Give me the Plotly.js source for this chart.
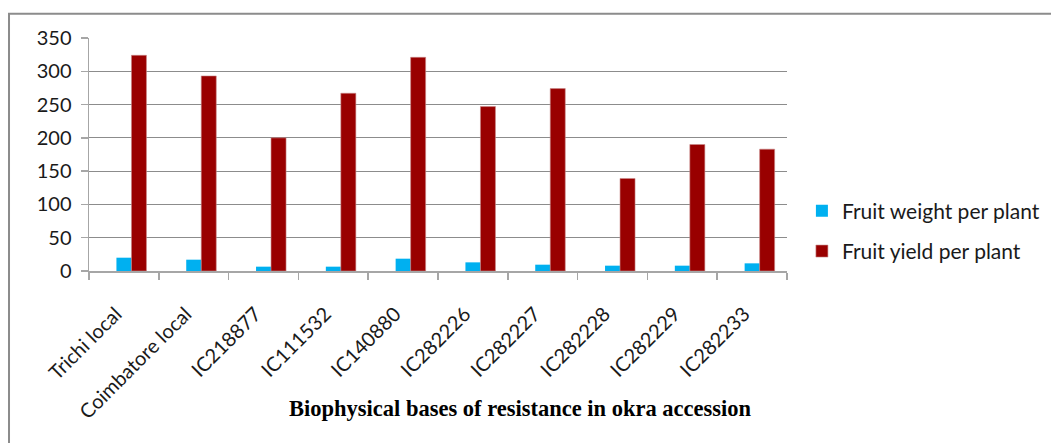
<!DOCTYPE html>
<html>
<head>
<meta charset="utf-8">
<script src="https://cdn.plot.ly/plotly-3.0.1.min.js"></script>
<style>
  html, body { margin: 0; padding: 0; background: #ffffff; }
  #chart { width: 1051px; height: 443px; }
</style>
</head>
<body>
<div id="chart"></div>
<script>
// Okra accessions and the two measured traits
const accessions = ["Trichi local", "Coimbatore local", "IC218877", "IC111532", "IC140880",
                    "IC282226", "IC282227", "IC282228", "IC282229", "IC282233"];
const fruitWeight = [20, 17, 6.5, 6.5, 18.5, 13, 9.5, 8, 8, 11.5];
const fruitYield  = [324, 293, 200, 267, 321, 247, 274, 139, 190, 183];
const yTicks = [0, 50, 100, 150, 200, 250, 300, 350];

const labelFont = { family: "Lato, 'Open Sans', sans-serif", size: 20, color: "#1a1a1a" };
const legendFont = { family: "Lato, 'Open Sans', sans-serif", size: 21, color: "#1a1a1a" };

const traces = [
  {
    type: "bar", name: "Fruit weight per plant", x: accessions, y: fruitWeight,
    marker: { color: "#00B0F0" }, width: 0.215, offset: -0.107,
    legendgroup: "w", hoverinfo: "x+y"
  },
  {
    type: "bar", name: "Fruit yield per plant", x: accessions, y: fruitYield,
    marker: { color: "#990000", line: { color: "#c98a8a", width: 0.6 } },
    width: 0.215, offset: 0.108,
    legendgroup: "y", hoverinfo: "x+y"
  }
];

const layout = {
  width: 1051, height: 443,
  margin: { l: 89, r: 264, t: 38, b: 172, autoexpand: false },
  paper_bgcolor: "#ffffff", plot_bgcolor: "#ffffff",
  barmode: "overlay",
  showlegend: true,
  legend: {
    xref: "container", x: 0.763, xanchor: "left",
    y: 0.345, yanchor: "top",
    font: legendFont, tracegroupgap: 10, itemwidth: 30,
    bgcolor: "rgba(0,0,0,0)"
  },
  xaxis: {
    type: "category", tickangle: -45, tickfont: labelFont,
    showline: true, linecolor: "#a6a6a6", linewidth: 1.5,
    ticks: "outside", tickson: "boundaries", ticklen: 7, tickcolor: "#a6a6a6", tickwidth: 1.5,
    showgrid: false, ticklabelstandoff: 22, ticklabelshift: -8, fixedrange: true
  },
  yaxis: {
    range: [0, 350], tickvals: yTicks, ticktext: yTicks.map(String), tickfont: labelFont,
    showline: true, linecolor: "#a6a6a6", linewidth: 1.5,
    ticks: "outside", ticklen: 7, tickcolor: "#a6a6a6", tickwidth: 1.5,
    showgrid: true, gridcolor: "#8c8c8c", gridwidth: 1, zeroline: false,
    ticklabelstandoff: 5, fixedrange: true
  },
  annotations: [
    {
      text: "<b>Biophysical bases of resistance in okra accession</b>",
      xref: "paper", yref: "paper", x: 0.618, y: -0.588, xanchor: "center", yanchor: "middle",
      showarrow: false,
      font: { family: "'Liberation Serif', 'Times New Roman', serif", size: 22.5, color: "#000000" }
    }
  ],
  shapes: [
    {
      type: "rect", xref: "paper", yref: "paper",
      x0: -0.1146, x1: 1.40, y0: -0.80, y1: 1.1045,
      line: { color: "#8c8c8c", width: 2 }, fillcolor: "rgba(0,0,0,0)", layer: "below"
    }
  ]
};

Plotly.newPlot("chart", traces, layout, { displayModeBar: false, staticPlot: true });
</script>
</body>
</html>
